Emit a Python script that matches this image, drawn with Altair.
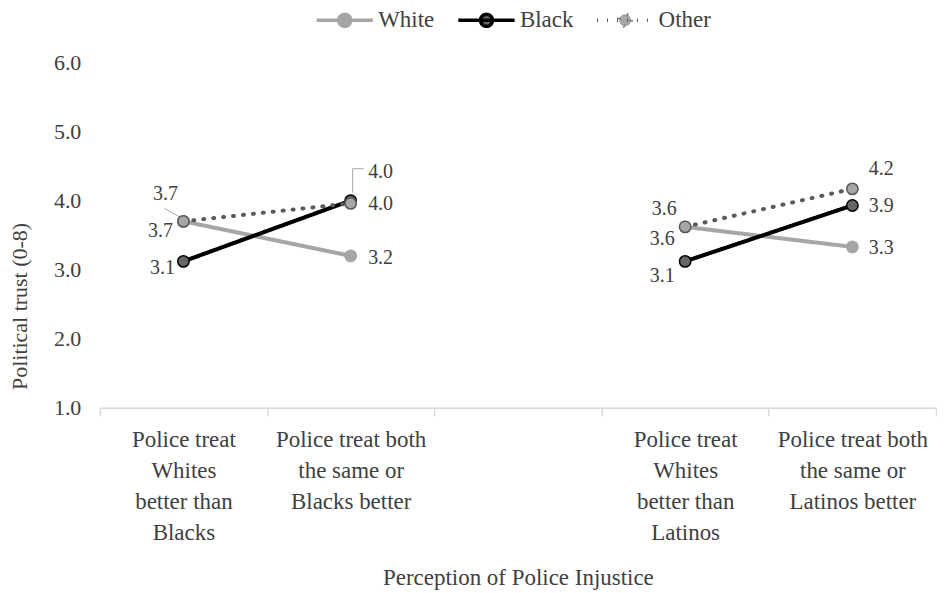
import altair as alt
import pandas as pd

# ---- data ----
categories = [
    "Police treat|Whites|better than|Blacks",
    "Police treat both|the same or|Blacks better",
    " ",
    "Police treat|Whites|better than|Latinos",
    "Police treat both|the same or|Latinos better",
]
point_cats = [categories[0], categories[1], categories[3], categories[4]]
pair_group = ["Blacks", "Blacks", "Latinos", "Latinos"]
series = ["White", "Black", "Other"]
white = [3.70, 3.20, 3.62, 3.33]
black = [3.12, 4.00, 3.12, 3.93]
other = [3.70, 3.96, 3.62, 4.17]

rows = []
for s, vals in zip(series, [white, black, other]):
    for c, g, v in zip(point_cats, pair_group, vals):
        rows.append({"series": s, "cat": c, "group": g, "value": v})
df = pd.DataFrame(rows)

FONT = "Liberation Serif"
TXT = "#404040"
LEG_PATH = "M-4.7,0L4.7,0M1,0A1,1,0,1,1,-1,0A1,1,0,1,1,1,0Z"

legend = alt.Legend(
    title=None, orient="none", legendX=212, legendY=-54, direction="horizontal",
    symbolType=LEG_PATH, symbolSize=144, symbolStrokeWidth=3.5,
    labelFont=FONT, labelFontSize=23, labelColor=TXT, labelLimit=200,
    labelOffset=22, symbolOffset=22, columnPadding=16,
)

x_enc = alt.X(
    "cat:N",
    scale=alt.Scale(type="band", domain=categories, paddingInner=0, paddingOuter=0),
    axis=alt.Axis(
        title="Perception of Police Injustice", titleFont=FONT, titleFontSize=23,
        titleFontWeight="normal", titleColor=TXT, titlePadding=22,
        labelExpr="split(datum.label, '|')", labelFont=FONT, labelFontSize=23,
        labelLineHeight=31, labelColor=TXT, labelAngle=0, labelPadding=13, labelLimit=300,
        tickBand="extent", tickSize=8, tickColor="#d9d9d9", tickWidth=1.5,
        domainColor="#d9d9d9", domainWidth=1.5, grid=False,
    ),
)
y_enc = alt.Y(
    "value:Q",
    scale=alt.Scale(domain=[1, 6], nice=False, zero=False),
    axis=alt.Axis(
        values=[1, 2, 3, 4, 5, 6], format=".1f", grid=False, domain=False, ticks=False,
        labelFont=FONT, labelFontSize=22, labelColor=TXT, labelPadding=19,
        title="Political trust (0-8)", titleFont=FONT, titleFontSize=22,
        titleFontWeight="normal", titleColor=TXT, titlePadding=22, titleY=244,
    ),
)

stroke_scale = alt.Scale(domain=series, range=["#a6a6a6", "#000000", "#595959"])
fill_scale = alt.Scale(domain=series, range=["#a6a6a6", "#666666", "#a6a6a6"])
dash_scale = alt.Scale(domain=series, range=[[1, 0], [1, 0], [1, 9]])

base = alt.Chart(df)

lines = base.mark_line(strokeWidth=4, strokeCap="round").encode(
    x=x_enc, y=y_enc,
    stroke=alt.Stroke("series:N", scale=stroke_scale, legend=legend),
    strokeDash=alt.StrokeDash("series:N", scale=dash_scale, legend=legend),
    detail="group:N",
)

points = base.mark_point(filled=True, size=130, strokeWidth=1.5, opacity=1).encode(
    x=x_enc, y=y_enc,
    fill=alt.Fill("series:N", scale=fill_scale, legend=legend),
    stroke=alt.Stroke("series:N", scale=stroke_scale, legend=legend),
)


def label(s, ci, dx, dy):
    return base.transform_filter(
        (alt.datum.series == s) & (alt.datum.cat == categories[ci])
    ).transform_calculate(
        lab="format(datum.value, '.1f')"
    ).mark_text(
        font=FONT, fontSize=20, color=TXT, dx=dx, dy=dy, align="center", baseline="middle"
    ).encode(x=x_enc, y=y_enc, text="lab:N")


def leader(s, ci, ox1, oy1, ox2, oy2):
    return base.transform_filter(
        (alt.datum.series == s) & (alt.datum.cat == categories[ci])
    ).mark_rule(
        color="#a6a6a6", strokeWidth=1,
        xOffset=ox1, yOffset=oy1, x2Offset=ox2, y2Offset=oy2,
    ).encode(x=x_enc, y=y_enc, x2=alt.X2("cat"), y2=alt.Y2("value"))


labels = [
    label("Other", 0, -18, -27), label("White", 0, -23, 10), label("Black", 0, -21, 7),
    label("Black", 1, 30, -29), label("Other", 1, 30, 1), label("White", 1, 30, 2),
    label("Other", 3, -21, -18), label("White", 3, -23, 12), label("Black", 3, -23, 15),
    label("Other", 4, 29, -20), label("Black", 4, 29, 1), label("White", 4, 29, 1),
]
leaders = [
    leader("Other", 0, -19, -13, -3, -4),
    leader("Black", 1, 2, -8, 2, -32),
    leader("Black", 1, 2, -32, 13, -32),
]

chart = alt.layer(lines, *leaders, points, *labels).properties(
    width=838, height=346, padding={"left": 0, "right": 0, "top": 0, "bottom": 0}
).configure_view(stroke=None)

chart.save("out.html", embed_options={"renderer": "svg", "actions": False})
